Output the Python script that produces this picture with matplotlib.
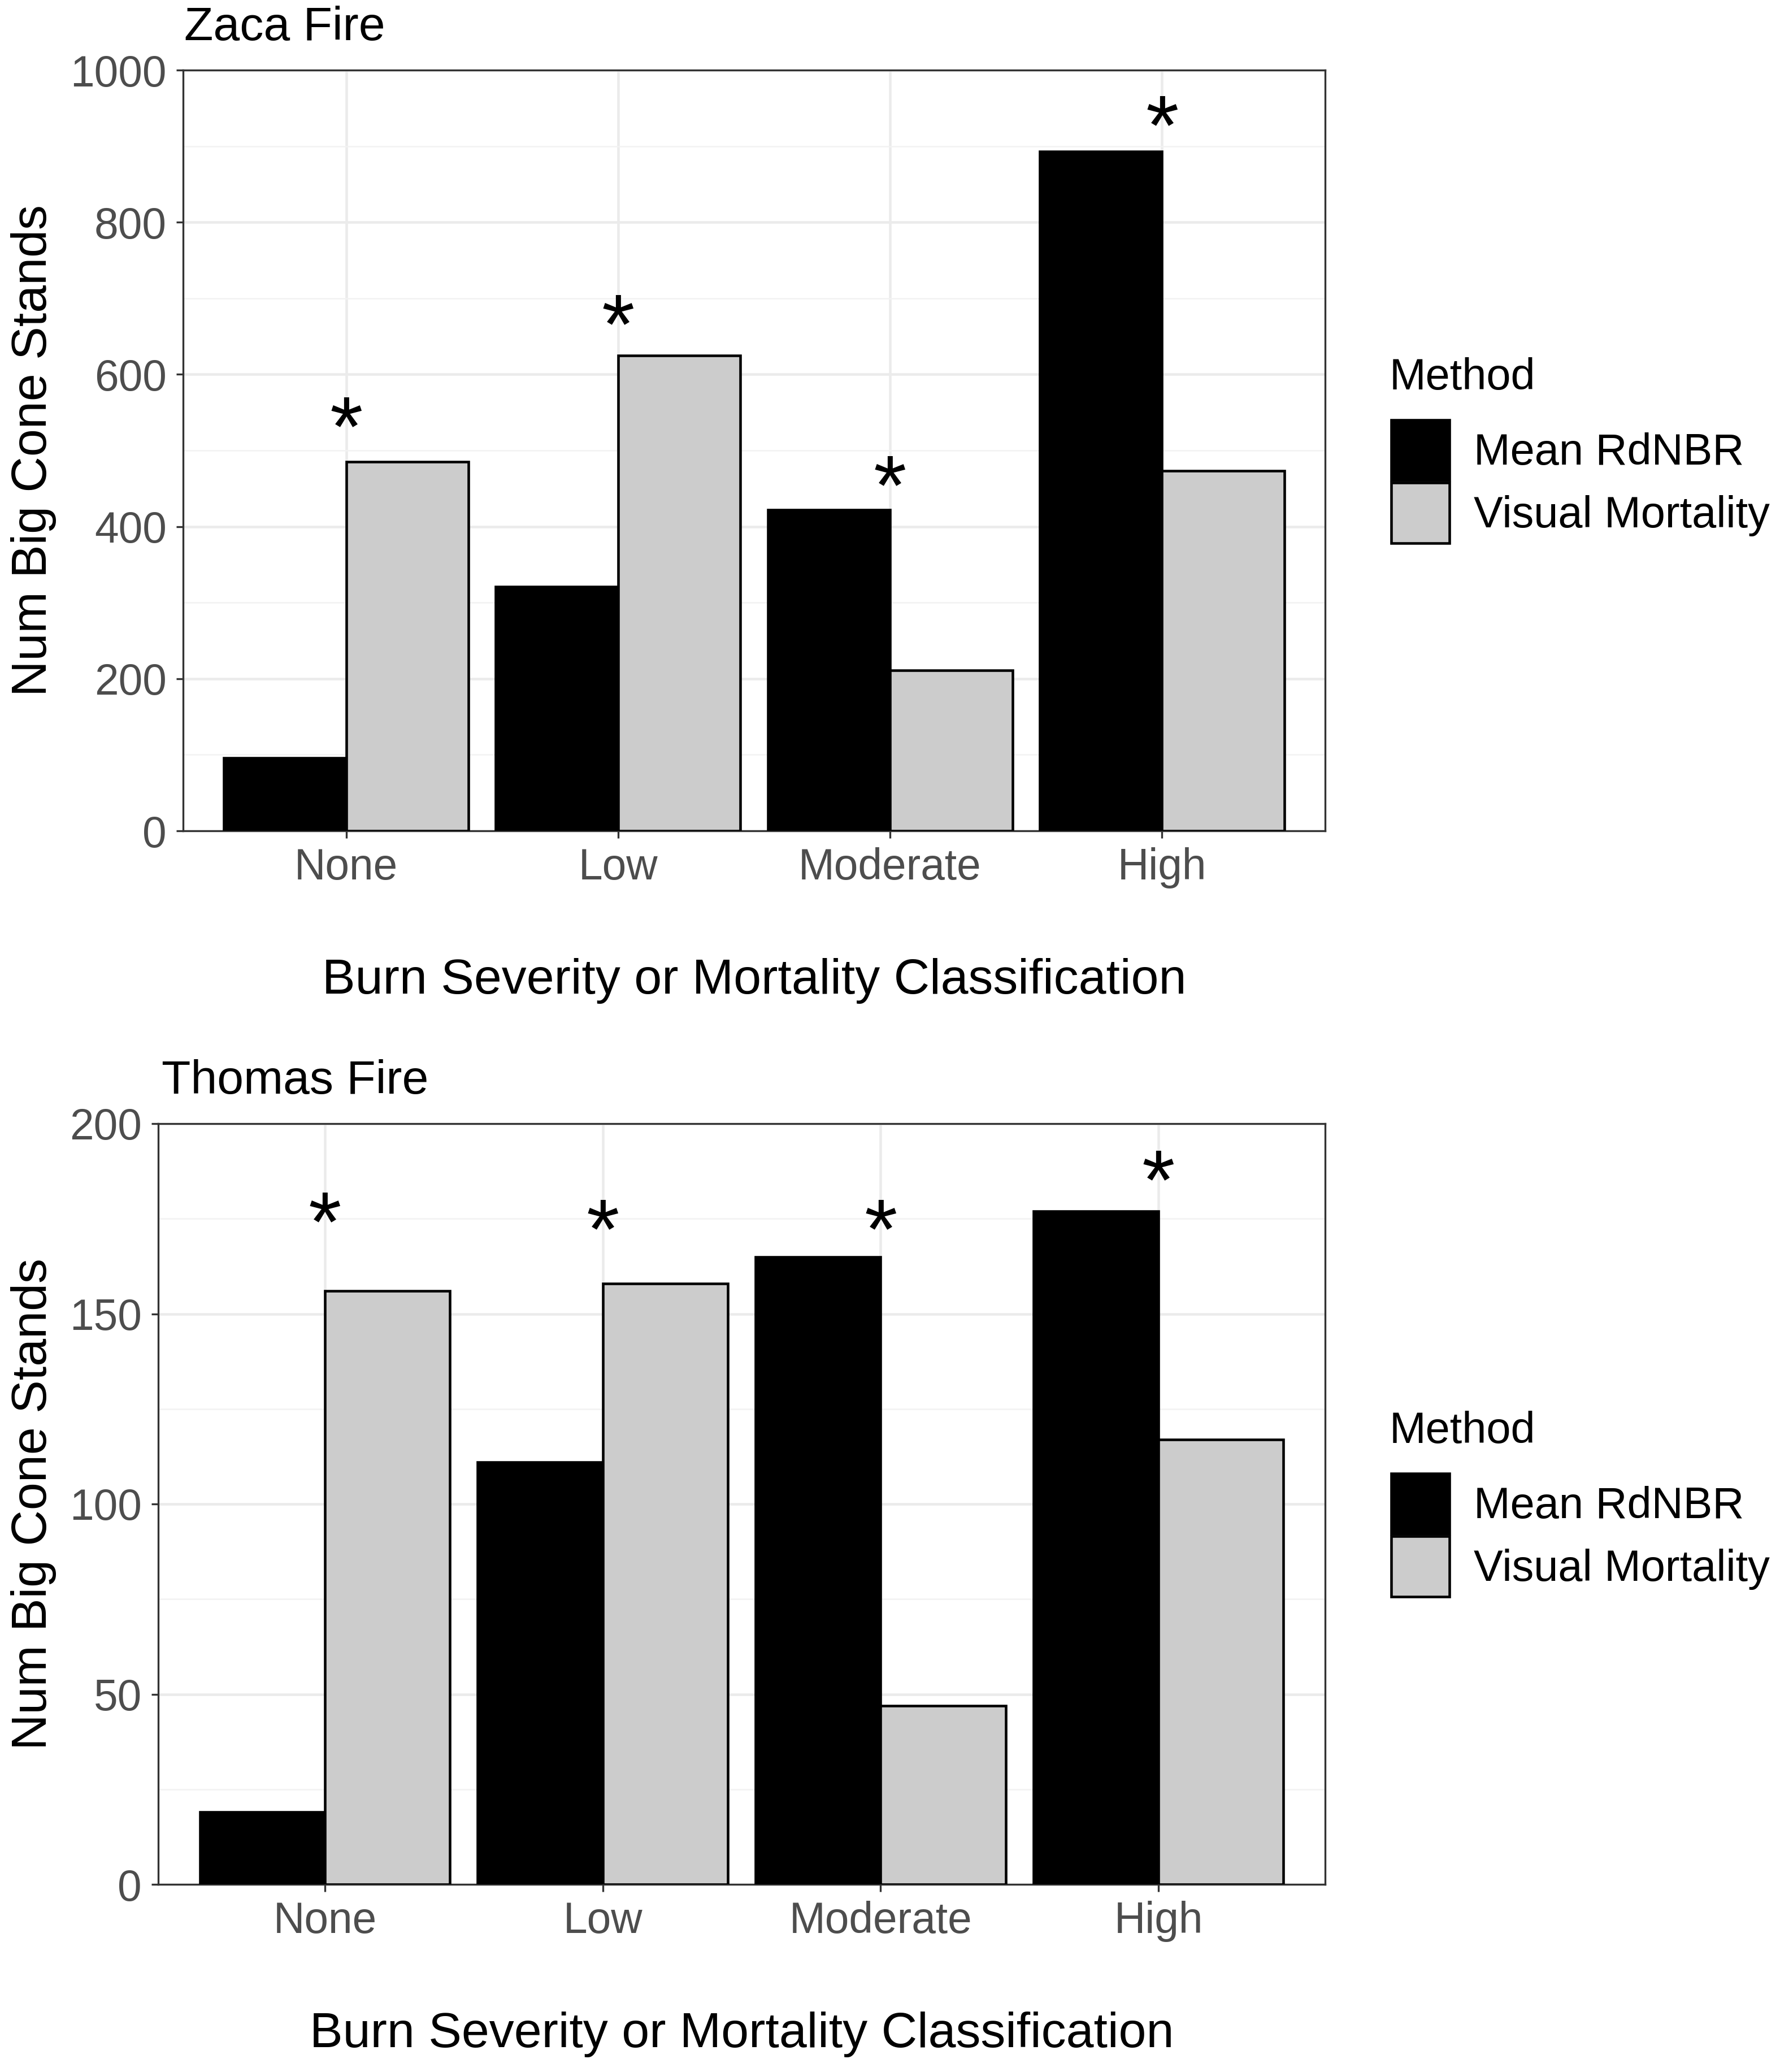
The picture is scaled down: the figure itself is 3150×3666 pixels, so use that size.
import matplotlib
matplotlib.use("Agg")
import matplotlib.pyplot as plt
from matplotlib.patches import Patch
from matplotlib.ticker import MultipleLocator
from matplotlib.textpath import TextPath
from matplotlib.font_manager import FontProperties
import numpy as np

plt.rcParams['font.family'] = ['Liberation Sans', 'DejaVu Sans']

categories = ["None", "Low", "Moderate", "High"]
methods = ["Mean RdNBR", "Visual Mortality"]

zaca_rdnbr = [96, 321, 422, 893]
zaca_visual = [485, 625, 211, 473]
zaca_star_y = [550, 685, 473, 946]

thomas_rdnbr = [19, 111, 165, 177]
thomas_visual = [156, 158, 47, 117]
thomas_star_y = [178, 176, 176, 189]

colors = ["#000000", "#CCCCCC"]

W, H = 3150, 3666
fig = plt.figure(figsize=(W / 300, H / 300), dpi=300)

def fx(px):
    return px / W

def fy(py):
    return 1 - py / H

star_fs = 36
tp = TextPath((0, 0), "*", size=star_fs, prop=FontProperties(family="Liberation Sans"))
ext = tp.get_extents()
star_off = (ext.y0 + ext.y1) / 2.0

panels = [
    dict(title="Zaca Fire", rd=zaca_rdnbr, vis=zaca_visual, stars=zaca_star_y,
         box=(324, 124, 2345, 1470), ymax=1000, major=200, minor=100, title_x=326),
    dict(title="Thomas Fire", rd=thomas_rdnbr, vis=thomas_visual, stars=thomas_star_y,
         box=(280, 1988, 2345, 3334), ymax=200, major=50, minor=25, title_x=286),
]

tick_col = "#4D4D4D"
for p in panels:
    l, t, r, b = p["box"]
    ax = fig.add_axes([fx(l), fy(b), fx(r - l), (b - t) / H])
    x = np.arange(1, len(categories) + 1)
    w = 0.45
    ax.bar(x - w / 2, p["rd"], width=w, color=colors[0], edgecolor="black", linewidth=1.1, zorder=3)
    ax.bar(x + w / 2, p["vis"], width=w, color=colors[1], edgecolor="black", linewidth=1.1, zorder=3)
    for xi, sy in zip(x, p["stars"]):
        ax.annotate("*", xy=(xi, sy), xytext=(0, -star_off), textcoords="offset points",
                    ha="center", va="baseline", fontsize=star_fs, color="black", zorder=4)
    ax.set_xlim(0.4, 4.6)
    ax.set_ylim(0, p["ymax"])
    ax.set_xticks(x)
    ax.set_xticklabels(categories)
    ax.yaxis.set_major_locator(MultipleLocator(p["major"]))
    ax.yaxis.set_minor_locator(MultipleLocator(p["minor"]))
    ax.grid(which="major", color="#EBEBEB", linewidth=1.1, zorder=0)
    ax.grid(which="minor", axis="y", color="#F2F2F2", linewidth=0.6, zorder=0)
    ax.set_axisbelow(True)
    ax.tick_params(axis="both", which="major", length=3, width=0.8, color="#333333",
                   labelsize=18.4, labelcolor=tick_col, pad=4)
    ax.tick_params(axis="both", which="minor", length=0)
    for s in ax.spines.values():
        s.set_color("#333333")
        s.set_linewidth(0.8)
    fig.text(fx(p["title_x"]), fy(t - 53), p["title"], ha="left", va="baseline", fontsize=20.2)
    fig.text(fx(60), fy((t + b) / 2), "Num Big Cone Stands", rotation=90,
             ha="center", va="center", fontsize=21.1)
    fig.text(fx((l + r) / 2), fy(b + 288), "Burn Severity or Mortality Classification",
             ha="center", va="baseline", fontsize=21.1)
    mid = (t + b) / 2
    fig.text(fx(2459), fy(mid - 128), "Method", ha="left", va="center", fontsize=18.6)
    handles = [Patch(facecolor=colors[0], edgecolor="black", linewidth=1.1),
               Patch(facecolor=colors[1], edgecolor="black", linewidth=1.1)]
    fig.legend(handles, methods, loc="center left",
               bbox_to_anchor=(fx(2462), fy(mid + 55)), frameon=False,
               fontsize=18.6, handlelength=1.33, handleheight=1.75,
               labelspacing=0.05, handletextpad=0.55, borderaxespad=0, borderpad=0)

fig.savefig("out.png", dpi=300)
